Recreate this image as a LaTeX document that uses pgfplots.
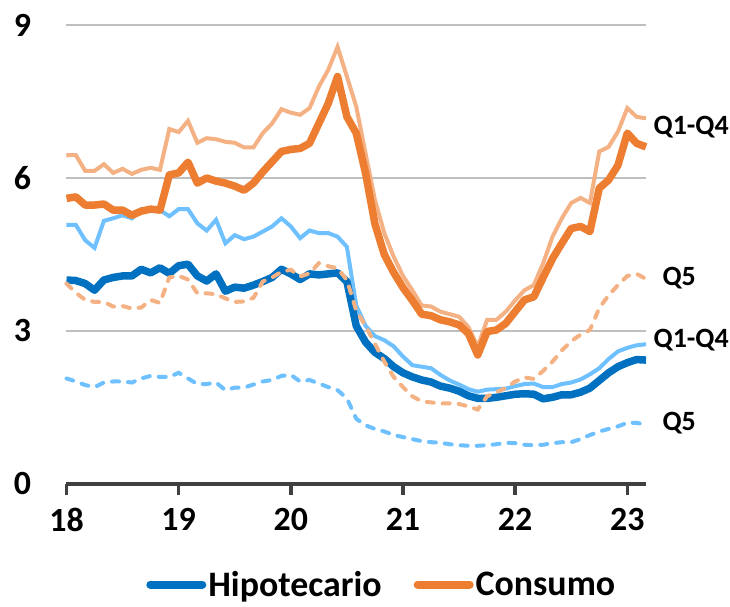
\documentclass[border=0pt]{standalone}
\usepackage{pgfplots}
\pgfplotsset{compat=1.18}
\usepackage{pgfplotstable}
\usepackage{fontspec}
\setmainfont{Carlito}
\definecolor{hipo}{HTML}{0070C0}
\definecolor{hipol}{HTML}{6FC0FF}
\definecolor{cons}{HTML}{ED7D31}
\definecolor{consl}{HTML}{F4B183}
\definecolor{axgray}{HTML}{404040}
\definecolor{grgray}{HTML}{BFBFBF}
\pgfplotstableread{
m hip con hipq conq hipv conv
0 4.00 5.60 5.08 6.45 2.07 3.93
1 3.99 5.63 5.08 6.45 2.01 3.75
2 3.93 5.47 4.78 6.14 1.94 3.61
3 3.80 5.47 4.63 6.14 1.90 3.57
4 4.00 5.49 5.16 6.27 1.99 3.57
5 4.05 5.37 5.21 6.10 2.01 3.48
6 4.08 5.37 5.27 6.18 2.01 3.49
7 4.08 5.27 5.21 6.08 1.99 3.44
8 4.21 5.35 5.39 6.16 2.07 3.46
9 4.14 5.39 5.39 6.20 2.12 3.61
10 4.24 5.37 5.37 6.16 2.10 3.55
11 4.13 6.06 5.25 6.96 2.10 4.05
12 4.28 6.10 5.39 6.90 2.18 4.08
13 4.31 6.31 5.39 7.12 2.07 4.01
14 4.08 5.90 5.11 6.69 1.96 3.74
15 3.98 6.00 4.97 6.78 1.96 3.74
16 4.12 5.94 5.18 6.76 1.99 3.72
17 3.78 5.90 4.72 6.71 1.84 3.64
18 3.86 5.84 4.88 6.69 1.89 3.57
19 3.84 5.76 4.80 6.60 1.89 3.58
20 3.90 5.90 4.85 6.60 1.95 3.65
21 3.97 6.12 4.95 6.88 2.01 3.97
22 4.05 6.32 5.05 7.07 2.04 4.05
23 4.21 6.52 5.21 7.35 2.12 4.16
24 4.12 6.56 5.05 7.28 2.14 4.20
25 4.01 6.58 4.82 7.24 2.01 4.07
26 4.12 6.68 4.97 7.37 2.04 4.13
27 4.10 7.07 4.92 7.79 1.97 4.33
28 4.12 7.46 4.92 8.12 1.90 4.27
29 4.14 7.99 4.85 8.57 1.84 4.23
30 3.97 7.20 4.65 7.99 1.68 4.00
31 3.10 6.88 3.50 7.40 1.28 3.40
32 2.78 6.09 3.10 6.48 1.15 3.10
33 2.58 5.10 2.90 5.57 1.08 2.75
34 2.46 4.50 2.82 4.92 1.03 2.40
35 2.30 4.15 2.70 4.46 0.96 2.10
36 2.18 3.85 2.50 4.08 0.92 1.90
37 2.10 3.60 2.33 3.80 0.88 1.72
38 2.04 3.33 2.30 3.50 0.84 1.62
39 2.00 3.30 2.27 3.48 0.82 1.60
40 1.92 3.22 2.14 3.38 0.81 1.58
41 1.88 3.18 2.03 3.33 0.78 1.58
42 1.82 3.12 1.95 3.28 0.76 1.57
43 1.73 2.95 1.86 3.08 0.75 1.52
44 1.68 2.53 1.81 2.69 0.75 1.46
45 1.68 2.99 1.85 3.22 0.76 1.72
46 1.70 3.02 1.86 3.22 0.78 1.80
47 1.73 3.15 1.87 3.38 0.81 1.88
48 1.76 3.38 1.92 3.60 0.80 2.01
49 1.77 3.61 1.96 3.80 0.77 2.09
50 1.76 3.67 1.97 3.90 0.76 2.06
51 1.67 4.05 1.90 4.33 0.77 2.22
52 1.70 4.42 1.90 4.85 0.80 2.40
53 1.75 4.72 1.96 5.21 0.82 2.62
54 1.75 5.01 1.99 5.51 0.82 2.80
55 1.80 5.05 2.05 5.61 0.88 2.93
56 1.88 4.95 2.15 5.51 0.96 3.02
57 2.03 5.80 2.27 6.52 1.03 3.45
58 2.18 5.96 2.45 6.61 1.08 3.70
59 2.30 6.25 2.60 6.91 1.13 3.90
60 2.38 6.88 2.67 7.37 1.20 4.08
61 2.44 6.68 2.72 7.20 1.20 4.12
62 2.43 6.61 2.74 7.17 1.16 4.02
}\datatable
\begin{document}
\begin{tikzpicture}
\begin{axis}[
  scale only axis, width=579.5bp, height=459bp,
  xmin=0, xmax=62, ymin=0, ymax=9,
  clip=false,
  axis x line*=bottom, axis y line*=left,
  x axis line style={draw=axgray, line width=4bp, -},
  y axis line style={draw=none},
  xtick={0,12,24,36,48,60}, xticklabels={18,19,20,21,22,23},
  ytick={0,3,6,9},
  tick align=outside, major tick length=11bp,
  xtick style={draw=axgray, line width=3.5bp},
  ytick style={draw=none},
  ymajorgrids, grid style={draw=grgray, line width=2.5bp},
  /pgf/number format/assume math mode=true,
  ticklabel style={font=\fontsize{34}{36}\selectfont\bfseries},
  xticklabel style={yshift=-10bp},
  yticklabel style={xshift=-21bp},
  legend style={at={(0.544,-0.219)}, anchor=center, draw=none, fill=none,
    legend columns=2, font=\fontsize{36}{40}\selectfont\bfseries,
    /tikz/every even column/.append style={column sep=30bp},
    inner sep=0pt},
  legend image code/.code={\draw[#1, line cap=round, line width=8bp] (0bp,0bp) -- (52bp,0bp);},
]
\addplot[hipol, line width=4bp, forget plot] table[x=m, y=hipq] {\datatable};
\addplot[consl, line width=4bp, forget plot] table[x=m, y=conq] {\datatable};
\addplot[hipol, line width=4bp, dash pattern=on 7bp off 9bp, line cap=round, forget plot] table[x=m, y=hipv] {\datatable};
\addplot[hipo, line width=7.5bp, line join=round] table[x=m, y=hip] {\datatable};
\addlegendentry{Hipotecario}
\addplot[cons, line width=7.5bp, line join=round] table[x=m, y=con] {\datatable};
\addlegendentry{Consumo}
\addplot[consl, line width=4bp, dash pattern=on 7bp off 9bp, line cap=round, forget plot] table[x=m, y=conv] {\datatable};
\node[anchor=west, inner sep=0pt, font=\fontsize{28}{30}\selectfont\bfseries] at (axis cs:62.8,7.0) {Q1-Q4};
\node[anchor=west, inner sep=0pt, font=\fontsize{28}{30}\selectfont\bfseries] at (axis cs:63.75,4.04) {Q5};
\node[anchor=west, inner sep=0pt, font=\fontsize{28}{30}\selectfont\bfseries] at (axis cs:62.8,2.82) {Q1-Q4};
\node[anchor=west, inner sep=0pt, font=\fontsize{28}{30}\selectfont\bfseries] at (axis cs:63.75,1.2) {Q5};
\end{axis}
\pgfresetboundingbox
\path (current axis.south west) ++(-66.5bp,-123bp) coordinate (bl);
\path (current axis.south west) ++(663.5bp,484bp) coordinate (tr);
\path[use as bounding box] (bl) rectangle (tr);
\end{tikzpicture}
\end{document}
